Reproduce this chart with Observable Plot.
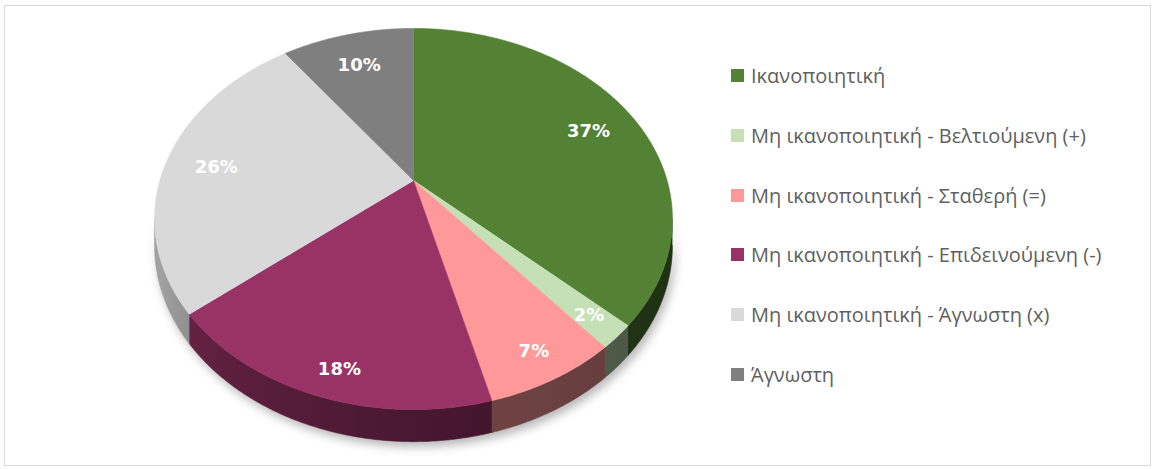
<!DOCTYPE html>
<html><head><meta charset="utf-8">
<script src="https://cdn.jsdelivr.net/npm/d3@7"></script>
<script src="https://cdn.jsdelivr.net/npm/@observablehq/plot@0.6"></script>
<style>
body{margin:0;background:#fff;}
#wrap{position:relative;width:1156px;height:469px;overflow:hidden;background:#fff;}
#frame{position:absolute;left:4px;top:5px;width:1147px;height:461px;border:1px solid #d9d9d9;box-sizing:border-box;}
#chart{position:absolute;left:0;top:0;}
#legend{position:absolute;left:731px;top:46px;font-family:"Open Sans",sans-serif;font-size:20px;color:#5f5f5f;}
.row{height:59.7px;display:flex;align-items:center;white-space:nowrap;}
.sw{width:13px;height:13px;margin-right:7px;flex:none;}
</style></head><body>
<div id="wrap"><div id="frame"></div><div id="chart"></div><div id="legend"></div></div>
<script>
const categories = [
  "Ικανοποιητική",
  "Μη ικανοποιητική - Βελτιούμενη (+)",
  "Μη ικανοποιητική - Σταθερή (=)",
  "Μη ικανοποιητική - Επιδεινούμενη (-)",
  "Μη ικανοποιητική - Άγνωστη (x)",
  "Άγνωστη"
];
const values = [37, 2, 7, 18, 26, 10];
const colors = ["#548235", "#C5E0B4", "#FF9999", "#993366", "#D9D9D9", "#7F7F7F"];
const labels = values.map(v => v + "%");

// perspective / layout parameters
const K = 0.202, DEPTH = 0.14;
const CX = 413, CY = 180, A = 253.6, B = 182.8;
const total = d3.sum(values);
const proj = (r, th) => {
  const u = r * Math.sin(th), v = r * Math.cos(th), d = 1 + K * v;
  return [u / d, v / d, d];
};

let acc = 0;
const slices = values.map((v, i) => {
  const a0 = acc / total * 2 * Math.PI;
  acc += v;
  const a1 = acc / total * 2 * Math.PI;
  return {i, cat: categories[i], color: colors[i], a0, a1, frac: v / total, label: labels[i]};
});

// top faces
const topRows = [];
for (const s of slices) {
  topRows.push({cat: s.cat, color: s.color, x: 0, y: 0});
  const n = Math.max(2, Math.ceil((s.a1 - s.a0) / (Math.PI / 360)));
  for (let j = 0; j <= n; j++) {
    const th = s.a0 + (s.a1 - s.a0) * j / n;
    const [x, y] = proj(1, th);
    topRows.push({cat: s.cat, color: s.color, x, y});
  }
}

// visible front side, one polygon per slice with a shading gradient
const shade = (c, th) => {
  const deg = th * 180 / Math.PI;
  const t = Math.max(0, Math.min(1, (deg - 110) / 135));
  const f = 0.38 + 0.36 * t * t;
  const rgb = d3.rgb(c);
  return d3.rgb(rgb.r * f, rgb.g * f, rgb.b * f).formatHex();
};
const thL = Math.acos(-K), thR = 2 * Math.PI - Math.acos(-K);
const sideRows = [];
const grads = [];
for (const s of slices) {
  const t0 = Math.max(s.a0, thL), t1 = Math.min(s.a1, thR);
  if (t1 <= t0) continue;
  const id = "side-grad-" + s.i;
  const stops = [];
  for (let j = 0; j <= 8; j++) {
    const th = t1 - (t1 - t0) * j / 8;   // left (large angle) to right (small angle)
    const px = proj(1, th)[0];
    stops.push({th, px});
  }
  const pmin = stops[0].px, pmax = stops[stops.length - 1].px;
  grads.push({id, stops: stops.map(o => ({offset: (o.px - pmin) / (pmax - pmin || 1), color: shade(s.color, o.th)}))});
  const n = Math.max(2, Math.ceil((t1 - t0) / (Math.PI / 360)));
  const top = [], bot = [];
  for (let j = 0; j <= n; j++) {
    const th = t0 + (t1 - t0) * j / n;
    const [x, y, d] = proj(1, th);
    top.push({x, y});
    bot.push({x, y: y - DEPTH / d});
  }
  for (const p of top.concat(bot.reverse())) sideRows.push({cat: s.cat, fill: "url(#" + id + ")", x: p.x, y: p.y});
}

// labels
const labelRows = slices.map(s => {
  const mid = (s.a0 + s.a1) / 2;
  const small = s.frac < 0.08;
  const r = small ? 0.88 : 0.8;
  const [x, y] = proj(r, mid);
  const vv = r * Math.cos(mid);
  const dyPx = small ? 0 : 5 - 26 * Math.min(0, vv);
  return {x, y: y - dyPx / B, label: s.label};
});

const chart = Plot.plot({
  width: 720, height: 469,
  marginTop: 0, marginRight: 0, marginBottom: 0, marginLeft: 0,
  x: {domain: [-1, 1], range: [CX - A, CX + A], axis: null},
  y: {domain: [-1, 1], range: [CY + B, CY - B], axis: null},
  color: {type: "identity"},
  marks: [
    Plot.line(sideRows, {x: "x", y: "y", z: "cat", fill: "fill", stroke: "fill", strokeWidth: 0.6}),
    Plot.line(topRows, {x: "x", y: "y", z: "cat", fill: "color", stroke: "color", strokeWidth: 0.6}),
    Plot.text(labelRows, {x: "x", y: "y", text: "label", fill: "white", fontSize: 18, fontWeight: "bold", fontFamily: "DejaVu Sans, Verdana, sans-serif"})
  ]
});

// gradient definitions
const defs = d3.create("svg:defs");
for (const g of grads) {
  const lg = defs.append("linearGradient").attr("id", g.id).attr("x1", 0).attr("x2", 1).attr("y1", 0).attr("y2", 0);
  for (const st of g.stops) lg.append("stop").attr("offset", st.offset).attr("stop-color", st.color);
}
chart.insertBefore(defs.node(), chart.firstChild);
const groups = chart.querySelectorAll('g[aria-label="line"]');
if (groups[0]) groups[0].setAttribute("style", "filter:drop-shadow(3px 5px 5px rgba(0,0,0,0.28))");
document.getElementById("chart").appendChild(chart);

const legend = d3.select("#legend");
categories.forEach((c, i) => {
  const row = legend.append("div").attr("class", "row");
  row.append("div").attr("class", "sw").style("background", colors[i]);
  row.append("span").text(c);
});
</script>
</body></html>
